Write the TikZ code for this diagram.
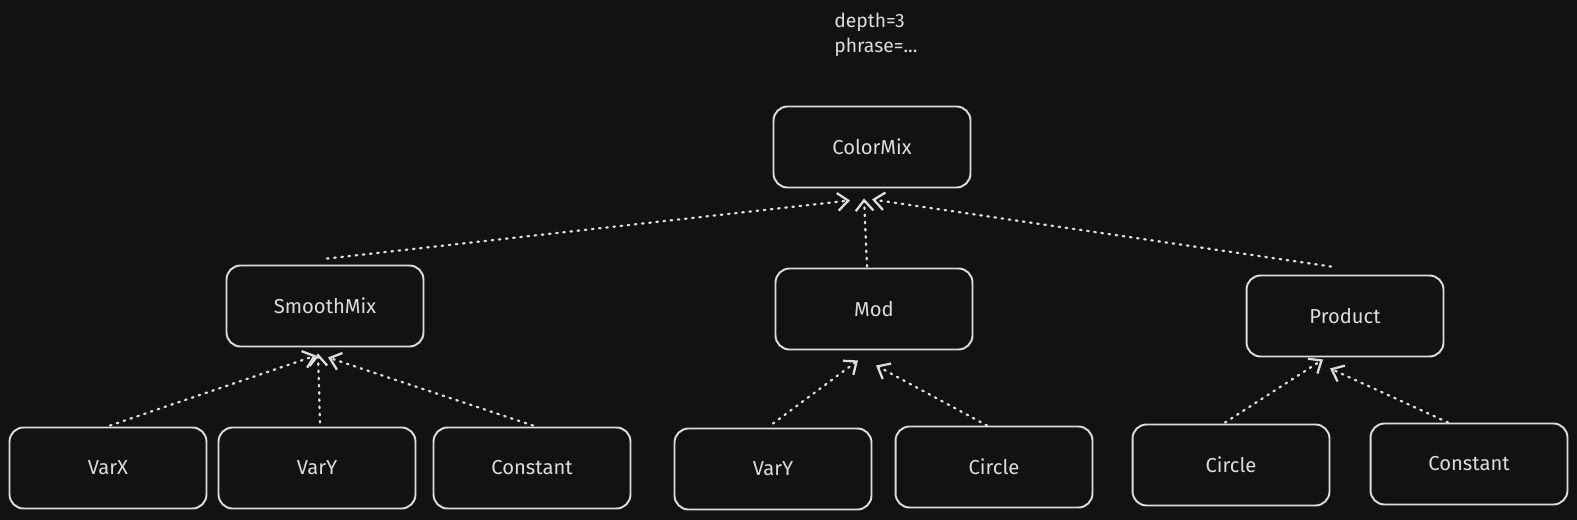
\documentclass[tikz,border=0pt]{standalone}
\usepackage{fontspec}
\setmainfont{Fira Sans}
\usetikzlibrary{arrows.meta,positioning}
\definecolor{canvas}{HTML}{121212}
\definecolor{ink}{HTML}{DCDCDC}

\begin{document}
\begin{tikzpicture}[x=0.02cm, y=-0.02cm,
  block/.style={draw=ink, line width=1.1pt, rounded corners=8pt,
    minimum width=3.94cm, minimum height=1.62cm, text=ink,
    font=\fontsize{11.5}{14}\selectfont},
  link/.style={ink, line width=1.3pt, line cap=round,
    dash pattern=on 0.9pt off 3.2pt,
    -{Straight Barb[length=6pt,width=10pt]}}]

  % Dark canvas
  \fill[canvas] (0,0) rectangle (1577,520);
  \useasboundingbox (0,0) rectangle (1577,520);

  % Settings note
  \node[anchor=north west, inner sep=0pt, align=left, text=ink,
    font=\fontsize{11}{14.2}\selectfont] (note) at (834,13) {depth=3\\phrase=...};

  % Root
  \node[block] (colormix) at (872,147) {ColorMix};

  % Second level
  \node[block] (smoothmix) at (325,306) {SmoothMix};
  \node[block] (mod) at (874,309) {Mod};
  \node[block] (product) at (1345,316) {Product};

  % Leaves
  \node[block] (varx) at (108,468) {VarX};
  \node[block] (vary) at (317,468) {VarY};
  \node[block] (constant) at (532,468) {Constant};
  \node[block] (modvary) at (773,469) {VarY};
  \node[block] (modcircle) at (994,467) {Circle};
  \node[block] (prodcircle) at (1231,465) {Circle};
  \node[block] (prodconstant) at (1469,464) {Constant};

  % Links to the root
  \draw[link] ([shift={(2,-6)}]smoothmix.north) -- ([shift={(-22,12)}]colormix.south);
  \draw[link] ([shift={(-7,-1)}]mod.north) -- ([shift={(-8,10)}]colormix.south);
  \draw[link] ([shift={(-14,-8)}]product.north) -- ([shift={(0,11)}]colormix.south);

  % Links to SmoothMix
  \draw[link] ([shift={(2,-1)}]varx.north) -- ([shift={(-9,8)}]smoothmix.south);
  \draw[link] ([shift={(3,-4)}]vary.north) -- ([shift={(-7,6)}]smoothmix.south);
  \draw[link] ([shift={(1,-1)}]constant.north) -- ([shift={(3,10)}]smoothmix.south);

  % Links to Mod
  \draw[link] ([shift={(0,-4)}]modvary.north) -- ([shift={(-16,10)}]mod.south);
  \draw[link] ([shift={(-7,0)}]modcircle.north) -- ([shift={(2,15)}]mod.south);

  % Links to Product
  \draw[link] ([shift={(-6,-1)}]prodcircle.north) -- ([shift={(-22,2)}]product.south);
  \draw[link] ([shift={(-21,0)}]prodconstant.north) -- ([shift={(-15,11)}]product.south);

\end{tikzpicture}
\end{document}
